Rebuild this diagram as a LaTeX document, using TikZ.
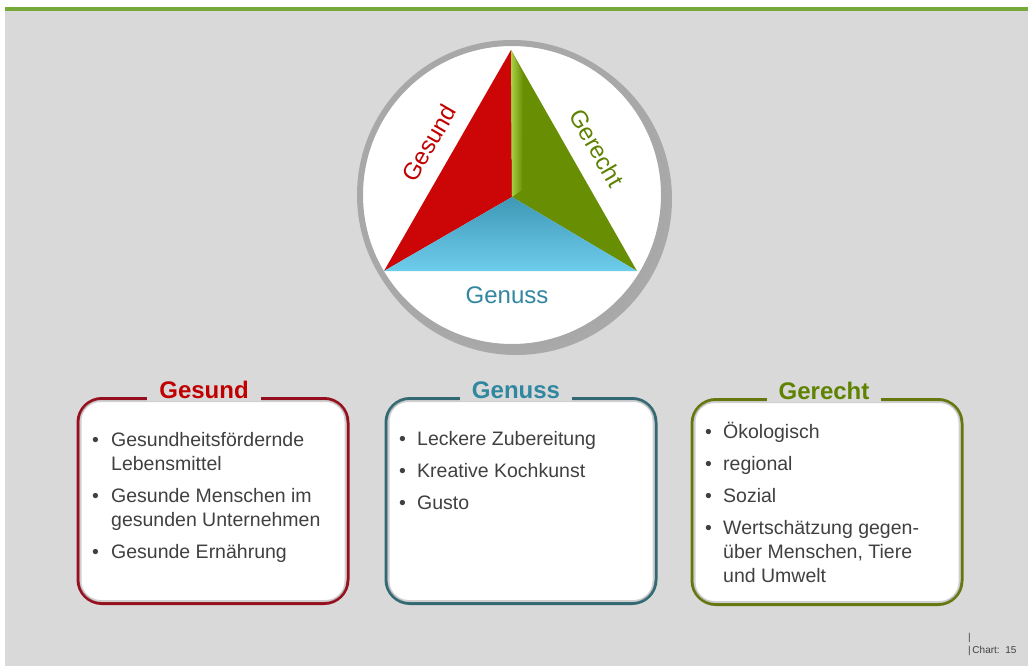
\documentclass[tikz,border=0pt]{standalone}
\usepackage{fontspec}
\setmainfont{Liberation Sans}
\usepackage{tikz}
\usetikzlibrary{positioning,calc}
\usepackage{xcolor}
\definecolor{ggbg}{RGB}{217,217,217}
\definecolor{ggline}{RGB}{119,168,58}
\definecolor{ggtext}{RGB}{64,64,64}
\definecolor{ggring}{RGB}{168,168,168}
\definecolor{ggred}{RGB}{192,0,0}
\definecolor{ggteal}{RGB}{49,135,160}
\definecolor{gggreen}{RGB}{95,130,0}
\definecolor{ggtrired}{RGB}{204,6,6}
\definecolor{ggtrigreen}{RGB}{104,142,4}
\definecolor{gglime}{RGB}{170,210,70}
\definecolor{ggtriblue}{RGB}{62,152,182}
\definecolor{ggtrilight}{RGB}{110,205,235}
\definecolor{ggredbox}{RGB}{150,15,30}
\definecolor{ggtealbox}{RGB}{50,105,115}
\definecolor{gggreenbox}{RGB}{100,120,15}
\tikzstyle{listbox} = [rectangle, rounded corners=24pt, fill=white, line width=3pt, minimum width=270pt, minimum height=205pt]
\tikzstyle{bevel} = [draw=black!30, line width=2pt, rounded corners=20pt, opacity=0.6]
\tikzstyle{boxtitle} = [font=\fontsize{24}{28}\selectfont\bfseries, fill=ggbg, inner xsep=12pt, inner ysep=3pt, anchor=base]
\tikzstyle{item} = [font=\fontsize{19.5}{24}\selectfont, text=ggtext, anchor=base west, inner sep=0pt]
\tikzstyle{sidelabel} = [font=\fontsize{24}{28}\selectfont, inner sep=0pt]
\tikzstyle{small} = [font=\fontsize{10}{12}\selectfont, text=ggtext, anchor=base west, inner sep=0pt]

\begin{document}
\begin{tikzpicture}[x=1pt, y=-1pt]
    \useasboundingbox (0,0) rectangle (1028,666);

    % Background
    \fill[white] (0,0) rectangle (1028,666);
    \fill[ggbg] (5,11) rectangle (1028,666);
    \fill[ggline] (5,7) rectangle (1028,11);

    % Circle
    \fill[black, opacity=0.22] (516,199) circle [radius=156];
    \node[circle, draw=ggring, line width=6pt, fill=white, minimum size=304pt] (logo) at (512,195) {};

    % Triangle
    \coordinate (apex) at (511,50);
    \coordinate (bl) at (384,271);
    \coordinate (br) at (637,271);
    \coordinate (mid) at (512,197);
    \fill[ggtrired] (apex) -- (bl) -- (mid) -- cycle;
    \fill[ggtrigreen] (apex) -- (mid) -- (br) -- cycle;
    \shade[left color=gglime, right color=ggtrigreen] (apex) -- (523,74) -- (522,190) -- (mid) -- cycle;
    \shade[top color=ggtriblue, middle color=ggtriblue, bottom color=ggtrilight] (bl) -- (mid) -- (br) -- cycle;

    % Labels
    \node[sidelabel, text=ggred, rotate=60] (gesundlabel) at (429,143) {Gesund};
    \node[sidelabel, text=gggreen, rotate=-60] (gerechtlabel) at (597,148) {Gerecht};
    \node[sidelabel, text=ggteal] (genusslabel) at (507,295) {Genuss};

    % Boxes
    \node[listbox, draw=ggredbox] (gesundbox) at (213,501) {};
    \node[listbox, draw=ggtealbox] (genussbox) at (521,501) {};
    \node[listbox, draw=gggreenbox] (gerechtbox) at (827,502) {};
    \draw[bevel] ([shift={(4,4)}]gesundbox.north west) rectangle ([shift={(-4,-4)}]gesundbox.south east);
    \draw[bevel] ([shift={(4,4)}]genussbox.north west) rectangle ([shift={(-4,-4)}]genussbox.south east);
    \draw[bevel] ([shift={(4,4)}]gerechtbox.north west) rectangle ([shift={(-4,-4)}]gerechtbox.south east);

    % Titles
    \node[boxtitle, text=ggred] (gesundtitle) at (204,398) {Gesund};
    \node[boxtitle, text=ggteal] (genusstitle) at (516,398) {Genuss};
    \node[boxtitle, text=gggreen] (gerechttitle) at (824,399) {Gerecht};

    % Gesund items
    \node[item] (gs1) at (92,446) {\makebox[19pt][l]{•}Gesundheitsfördernde};
    \node[item] (gs1b) at (111,470) {Lebensmittel};
    \node[item] (gs2) at (92,502) {\makebox[19pt][l]{•}Gesunde Menschen im};
    \node[item] (gs2b) at (111,526) {gesunden Unternehmen};
    \node[item] (gs3) at (92,558) {\makebox[19pt][l]{•}Gesunde Ernährung};

    % Genuss items
    \node[item] (gn1) at (399,445) {\makebox[18pt][l]{•}Leckere Zubereitung};
    \node[item] (gn2) at (399,477) {\makebox[18pt][l]{•}Kreative Kochkunst};
    \node[item] (gn3) at (399,509) {\makebox[18pt][l]{•}Gusto};

    % Gerecht items
    \node[item] (gr1) at (705,438) {\makebox[18pt][l]{•}Ökologisch};
    \node[item] (gr2) at (705,470) {\makebox[18pt][l]{•}regional};
    \node[item] (gr3) at (705,502) {\makebox[18pt][l]{•}Sozial};
    \node[item] (gr4) at (705,534) {\makebox[18pt][l]{•}Wertschätzung gegen-};
    \node[item] (gr4b) at (723,558) {über Menschen, Tiere};
    \node[item] (gr4c) at (723,582) {und Umwelt};

    % Footer
    \node[small] (chartbar) at (968,640) {|};
    \node[small] (chart) at (968,653) {|\,Chart:\ \ 15};
\end{tikzpicture}
\end{document}
